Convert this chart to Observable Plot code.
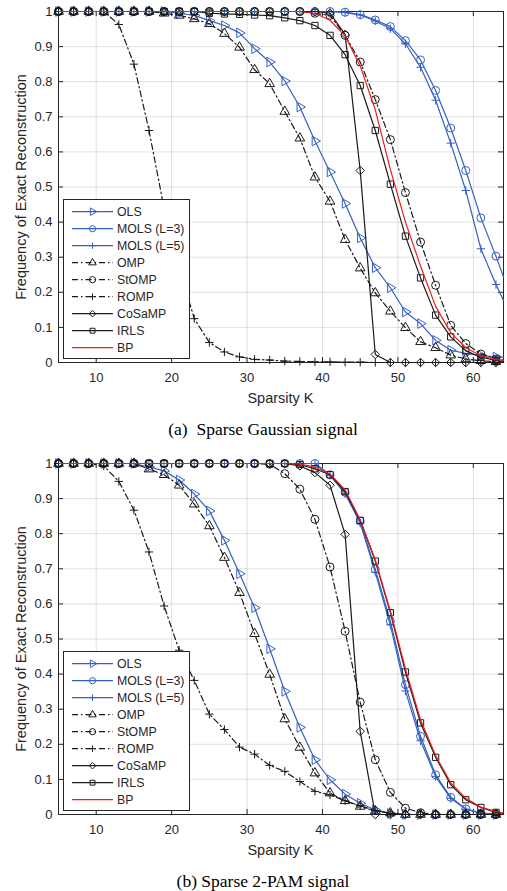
<!DOCTYPE html>
<html><head><meta charset="utf-8">
<script src="https://cdn.jsdelivr.net/npm/d3@7"></script>
<script src="https://cdn.jsdelivr.net/npm/@observablehq/plot@0.6"></script>
<style>
body{margin:0;background:#fff;}
#root{position:relative;width:507px;height:891px;overflow:hidden;background:#fff;font-family:"Liberation Sans",Arial,Helvetica,sans-serif;color:#262626;}
.panel{position:absolute;left:0;width:507px;height:408px;}
.panel svg{display:block;}
.ylab{position:absolute;white-space:nowrap;font-size:14.5px;transform:translate(-50%,-50%) rotate(-90deg);}
.xlab{position:absolute;white-space:nowrap;font-size:14.5px;transform:translate(-50%,-50%);}
.cap{position:absolute;white-space:nowrap;font-family:"Liberation Serif","Times New Roman",serif;font-size:17.5px;color:#000;transform:translate(-50%,-50%);}
</style></head><body><div id="root"></div>
<script>
// ---------- data ----------
const K = [5,7,9,11,13,15,17,19,21,23,25,27,29,31,33,35,37,39,41,43,45,47,49,51,53,55,57,59,61,63,64];
const xTicks = [10,20,30,40,50,60];
const xTickLabels = ["10","20","30","40","50","60"];
const yTicks = [0,0.1,0.2,0.3,0.4,0.5,0.6,0.7,0.8,0.9,1];
const yTickLabels = ["0","0.1","0.2","0.3","0.4","0.5","0.6","0.7","0.8","0.9","1"];
const seriesNames = ["OLS","MOLS (L=3)","MOLS (L=5)","OMP","StOMP","ROMP","CoSaMP","IRLS","BP"];

// (a) Sparse Gaussian signal
const gaussOLS   = [1,1,1,1,1,1,1,1,0.995,0.989,0.974,0.96,0.939,0.894,0.856,0.802,0.728,0.631,0.543,0.453,0.355,0.27,0.213,0.144,0.111,0.063,0.035,0.026,0.02,0.016,0.015];
const gaussMOLS3 = [1,1,1,1,1,1,1,1,1,1,1,1,1,1,1,1,1,1,1,0.998,0.991,0.976,0.957,0.917,0.862,0.775,0.668,0.547,0.412,0.303,0.244];
const gaussMOLS5 = [1,1,1,1,1,1,1,1,1,1,1,1,1,1,1,1,1,1,1,0.997,0.99,0.973,0.951,0.908,0.841,0.747,0.625,0.49,0.324,0.222,0.177];
const gaussOMP   = [1,1,1,1,1,1,1,0.995,0.989,0.979,0.965,0.937,0.898,0.834,0.794,0.715,0.639,0.528,0.459,0.35,0.269,0.198,0.146,0.099,0.059,0.042,0.021,0.01,0.005,0.002,0.001];
const gaussStOMP = [1,1,1,1,1,1,1,1,1,1,1,1,1,1,1,1,1,0.995,0.989,0.932,0.856,0.749,0.635,0.484,0.343,0.22,0.106,0.054,0.024,0.01,0.007];
const gaussROMP  = [1,1,1,1,0.963,0.85,0.661,0.44,0.27,0.125,0.057,0.03,0.016,0.009,0.007,0.004,0.003,0.002,0.002,0.001,0.001,0,0,0,0,0,0,0,0,0,0];
const gaussCoSaMP= [1,1,1,1,1,1,1,1,1,1,1,1,1,1,1,1,1,1,0.995,0.935,0.547,0.023,0,0,0,0,0,0,0,0,0];
const gaussIRLS  = [1,1,1,1,1,1,1,1,1,1,0.995,0.993,0.992,0.99,0.988,0.982,0.974,0.96,0.932,0.877,0.789,0.661,0.508,0.36,0.241,0.135,0.073,0.033,0.015,0.006,0.004];
const gaussBP    = [1,1,1,1,1,1,1,1,1,1,1,1,1,1,1,1,1,0.995,0.975,0.93,0.845,0.72,0.55,0.4,0.275,0.16,0.085,0.042,0.019,0.008,0.006];

// (b) Sparse 2-PAM signal
const pamOLS   = [1,1,1,1,1,1,0.99,0.979,0.953,0.913,0.865,0.781,0.686,0.589,0.472,0.351,0.248,0.156,0.099,0.058,0.032,0.013,0.003,0,0,0,0,0,0,0,0];
const pamMOLS3 = [1,1,1,1,1,1,1,1,1,1,1,1,1,1,1,1,1,1,0.968,0.918,0.836,0.699,0.551,0.37,0.223,0.113,0.049,0.016,0.004,0.001,0];
const pamMOLS5 = [1,1,1,1,1,1,1,1,1,1,1,1,1,1,1,1,1,1,0.966,0.914,0.83,0.69,0.54,0.352,0.21,0.108,0.046,0.015,0.004,0.001,0];
const pamOMP   = [1,1,1,1,1,1,0.984,0.968,0.938,0.884,0.822,0.732,0.632,0.515,0.399,0.272,0.191,0.118,0.061,0.039,0.023,0.01,0.004,0,0,0,0,0,0,0,0];
const pamStOMP = [1,1,1,1,1,1,1,1,1,1,1,1,1,1,0.998,0.971,0.927,0.841,0.705,0.522,0.32,0.156,0.063,0.018,0.005,0,0,0,0,0,0];
const pamROMP  = [1,1,1,0.993,0.949,0.867,0.748,0.594,0.468,0.382,0.286,0.242,0.192,0.172,0.14,0.123,0.094,0.066,0.056,0.039,0.025,0.011,0.003,0,0,0,0,0,0,0,0];
const pamCoSaMP= [1,1,1,1,1,1,1,1,1,1,1,1,1,1,1,1,0.993,0.974,0.938,0.798,0.237,0,0,0,0,0,0,0,0,0,0];
const pamIRLS   = [1,1,1,1,1,1,1,1,1,1,1,1,1,1,1,1,0.997,0.985,0.968,0.92,0.838,0.722,0.575,0.406,0.261,0.163,0.085,0.042,0.02,0.006,0.004];
const pamBP     = [1,1,1,1,1,1,1,1,1,1,1,1,1,1,1,1,0.998,0.99,0.97,0.925,0.84,0.725,0.58,0.415,0.27,0.168,0.09,0.046,0.021,0.008,0.005];

// ---------- styles ----------
const BLUE = "#3560c0", BLACK = "#1a1a1a", RED = "#ee1c1c";
const DASHDOT = "6,3,1.5,3";
const sty = {
  "OLS":        {color: BLUE,  dash: null,    symbol: "triangle2", rotate: 90, r: 4.6},
  "MOLS (L=3)": {color: BLUE,  dash: null,    symbol: "circle",    rotate: 0,  r: 4.0},
  "MOLS (L=5)": {color: BLUE,  dash: null,    symbol: "plus",      rotate: 0,  r: 2.8},
  "OMP":        {color: BLACK, dash: DASHDOT, symbol: "triangle2", rotate: 0,  r: 4.6},
  "StOMP":      {color: BLACK, dash: DASHDOT, symbol: "circle",    rotate: 0,  r: 4.0},
  "ROMP":       {color: BLACK, dash: DASHDOT, symbol: "plus",      rotate: 0,  r: 2.8},
  "CoSaMP":     {color: BLACK, dash: null,    symbol: "diamond2",  rotate: 0,  r: 3.8},
  "IRLS":       {color: BLACK, dash: null,    symbol: "square2",   rotate: 0,  r: 4.0},
  "BP":         {color: RED,   dash: null,    symbol: null,        rotate: 0,  r: 0}
};
const d3sym = {triangle2: d3.symbolTriangle2, circle: d3.symbolCircle, plus: d3.symbolPlus, diamond2: d3.symbolDiamond2, square2: d3.symbolSquare2};

const W = 507, ML = 58, MR = 4, MT = 11, MB = 46, FH = 351;
const FW = W - ML - MR;
const AX = "#262626";

function makePlot(seriesValues) {
  const marks = [
    Plot.gridX(xTicks, {stroke: "#000", strokeOpacity: 0.12}),
    Plot.gridY(yTicks, {stroke: "#000", strokeOpacity: 0.12}),
    Plot.tickY(yTicks, {stroke: AX, insetRight: FW - 5}),
    Plot.tickY(yTicks, {stroke: AX, insetLeft: FW - 5}),
    Plot.tickX(xTicks, {stroke: AX, insetTop: FH - 5}),
    Plot.tickX(xTicks, {stroke: AX, insetBottom: FH - 5}),
    Plot.frame({stroke: AX}),
    Plot.axisX(xTicks, {anchor: "bottom", tickSize: 0, tickPadding: 10, label: null, tickFormat: (d) => xTickLabels[xTicks.indexOf(d)], fill: AX}),
    Plot.axisY(yTicks, {anchor: "left", tickSize: 0, tickPadding: 6, label: null, tickFormat: (d) => yTickLabels[yTicks.indexOf(d)], fill: AX})
  ];
  seriesNames.forEach((n, i) => {
    const s = sty[n];
    const rows = K.map((k, j) => ({K: k, v: seriesValues[i][j]}));
    marks.push(Plot.line(rows, {x: "K", y: "v", stroke: s.color, strokeWidth: 1.2, strokeDasharray: s.dash || undefined}));
    if (s.symbol) {
      marks.push(Plot.dot(rows.filter(d => d.K % 2 === 1), {x: "K", y: "v", symbol: s.symbol, r: s.r, rotate: s.rotate, stroke: s.color, strokeWidth: 1, fill: "none"}));
    }
  });
  return Plot.plot({
    width: W, height: MT + FH + MB,
    marginTop: MT, marginBottom: MB, marginLeft: ML, marginRight: MR,
    x: {domain: [5, 64]},
    y: {domain: [0, 1]},
    style: {fontFamily: '"Liberation Sans", Arial, Helvetica, sans-serif', fontSize: "13px", color: AX, background: "transparent", overflow: "visible"},
    marks
  });
}

function makeLegend() {
  const lw = 127, lh = 160;
  const svg = d3.create("svg").attr("width", lw).attr("height", lh)
    .style("position", "absolute").style("left", "63px").style("top", "199px");
  svg.append("rect").attr("x", 0.5).attr("y", 0.5).attr("width", lw - 1).attr("height", lh - 1)
    .attr("fill", "#fff").attr("stroke", AX);
  seriesNames.forEach((n, i) => {
    const s = sty[n];
    const g = svg.append("g").attr("transform", `translate(0,${12.7 + i * 17})`);
    g.append("line").attr("x1", 9).attr("x2", 50).attr("y1", 0).attr("y2", 0)
      .attr("stroke", s.color).attr("stroke-width", 1.2).attr("stroke-dasharray", s.dash);
    if (s.symbol) {
      const rr = s.r * 0.78;
      g.append("path").attr("d", d3.symbol(d3sym[s.symbol], Math.PI * rr * rr)())
        .attr("transform", `translate(29.5,0) rotate(${s.rotate})`)
        .attr("fill", "none").attr("stroke", s.color).attr("stroke-width", 1);
    }
    g.append("text").attr("x", 54).attr("y", 0).attr("dy", "0.35em").attr("fill", AX)
      .attr("font-family", '"Liberation Sans", Arial, Helvetica, sans-serif').attr("font-size", 12.3).text(n);
  });
  return svg.node();
}

function makePanel(top, values, caption) {
  const p = document.createElement("div");
  p.className = "panel";
  p.style.top = top + "px";
  p.appendChild(makePlot(values));
  p.appendChild(makeLegend());
  const yl = document.createElement("div"); yl.className = "ylab";
  yl.style.left = "21px"; yl.style.top = (MT + FH / 2) + "px";
  yl.textContent = "Frequency of Exact Reconstruction"; p.appendChild(yl);
  const xl = document.createElement("div"); xl.className = "xlab";
  xl.style.left = (ML + FW / 2) + "px"; xl.style.top = "397.5px";
  xl.textContent = "Sparsity K"; p.appendChild(xl);
  const cp = document.createElement("div"); cp.className = "cap";
  cp.style.left = "263px"; cp.style.top = "429px";
  cp.innerHTML = caption; p.appendChild(cp);
  document.getElementById("root").appendChild(p);
}

makePanel(0, [gaussOLS, gaussMOLS3, gaussMOLS5, gaussOMP, gaussStOMP, gaussROMP, gaussCoSaMP, gaussIRLS, gaussBP], "(a)&nbsp; Sparse Gaussian signal");
makePanel(452, [pamOLS, pamMOLS3, pamMOLS5, pamOMP, pamStOMP, pamROMP, pamCoSaMP, pamIRLS, pamBP], "(b) Sparse 2-PAM signal");
</script></body></html>
